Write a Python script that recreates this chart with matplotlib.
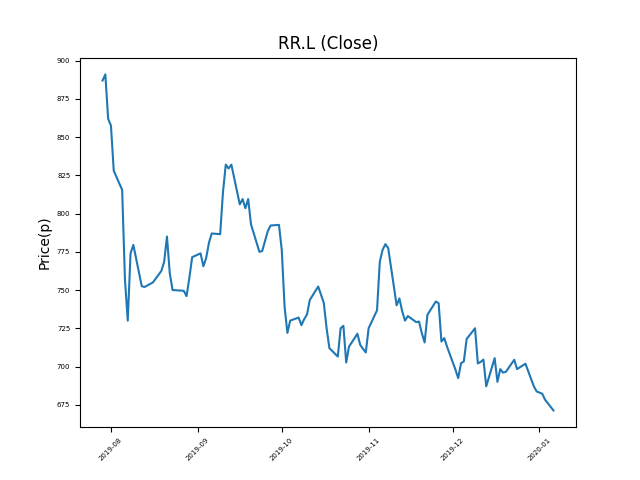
import pandas as pd
import matplotlib
matplotlib.use('Agg')
import matplotlib.pyplot as plt
from matplotlib.ticker import MultipleLocator

# UK trading days, Jul 29 2019 - Jan 6 2020
holidays = ['2019-08-26', '2019-12-25', '2019-12-26', '2020-01-01']
dates = pd.bdate_range('2019-07-29', '2020-01-06')
dates = dates[~dates.isin(pd.to_datetime(holidays))]

# closing prices (p), one row per week
close = [
    887, 891, 862, 857.5, 828,
    815.5, 757, 730, 774, 779.5,
    752.5, 752, 753, 754, 755,
    762.5, 768.5, 785, 761, 750,
    749.5, 746, 758, 771.5,
    774, 765.5, 771, 781, 787,
    786.5, 814, 832, 829.5, 832,
    806, 809.5, 803.5, 809.5, 793,
    775, 775.5, 782, 788.5, 792.2,
    792.6, 776, 739, 722, 730,
    732, 727, 731, 734, 743.5,
    752.3, 747, 741.5, 725, 712,
    706.5, 725, 726.6, 702.6, 713,
    721.4, 714.2, 711.5, 709.2, 725,
    736.7, 768.6, 776.3, 780, 777.4,
    740, 744.5, 736, 730, 733,
    729, 729.4, 721.8, 715.7, 733.8,
    742.5, 741.4, 716.3, 718.6, 713,
    698, 692.4, 702.2, 703.3, 718,
    725, 702, 703, 704.5, 687,
    705.5, 690, 698.3, 696, 696.5,
    704.4, 698.3, 701.8,
    687, 683.7,
    682.2, 678.3, 671.3,
]

fig, ax = plt.subplots(figsize=(6.4, 4.8), dpi=100)
ax.plot(dates, close)
ax.set_title('RR.L (Close)')
ax.set_ylabel('Price(p)')
ax.yaxis.set_major_locator(MultipleLocator(25))
ax.tick_params(axis='both', labelsize=5)
plt.setp(ax.get_xticklabels(), rotation=45)

fig.savefig('out.png')
